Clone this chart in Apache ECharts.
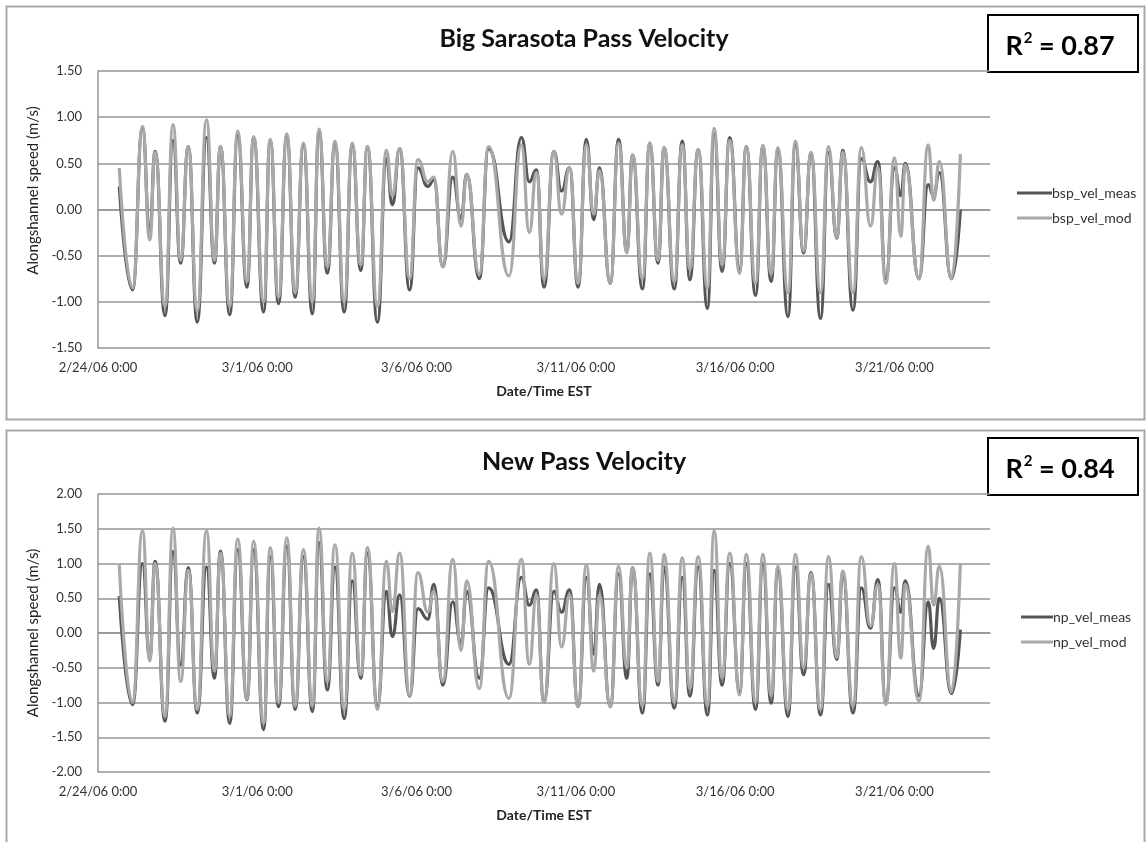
<!DOCTYPE html>
<html>
<head>
<meta charset="utf-8">
<script src="https://cdn.jsdelivr.net/npm/echarts@6/dist/echarts.min.js"></script>
<style>
html,body{margin:0;padding:0;background:#fff;}
#chart{width:1146px;height:842px;}
</style>
</head>
<body>
<div id="chart"></div>
<script>
// Time of each tidal extreme, in days after 2/24/06 0:00
var dayOffsets = [0.667, 1.084, 1.396, 1.625, 1.792, 2.104, 2.354, 2.594, 2.833, 3.115,
  3.406, 3.656, 3.844, 4.135, 4.385, 4.677, 4.885, 5.198, 5.406, 5.667,
  5.927, 6.188, 6.448, 6.729, 6.938, 7.198, 7.438, 7.729, 7.979, 8.25,
  8.458, 8.771, 9.052, 9.24, 9.469, 9.781, 10.042, 10.354, 10.542, 10.823,
  11.135, 11.396, 11.573, 11.969, 12.26, 12.9, 13.29, 13.54, 13.76, 14.0,
  14.31, 14.55, 14.8, 15.07, 15.33, 15.56, 15.74, 16.08, 16.34, 16.6,
  16.78, 17.09, 17.32, 17.58, 17.77, 18.09, 18.34, 18.58, 18.84, 19.13,
  19.34, 19.59, 19.83, 20.14, 20.35, 20.64, 20.87, 21.13, 21.34, 21.66,
  21.89, 22.15, 22.38, 22.68, 22.93, 23.19, 23.38, 23.7, 23.96, 24.25,
  24.48, 24.73, 25.0, 25.2, 25.34, 25.77, 26.06, 26.23, 26.41, 26.79,
  27.07];

var bspVelMeas = [0.25, -0.87, 0.88, -0.25, 0.63, -1.15, 0.75, -0.58, 0.68, -1.22,
  0.78, -0.58, 0.68, -1.14, 0.80, -0.84, 0.78, -1.11, 0.75, -1.02,
  0.80, -0.95, 0.70, -1.13, 0.85, -0.69, 0.72, -1.11, 0.70, -0.66,
  0.68, -1.22, 0.55, 0.05, 0.66, -0.87, 0.45, 0.25, 0.32, -0.62,
  0.35, -0.10, 0.38, -0.75, 0.66, -0.35, 0.78, 0.30, 0.43, -0.84,
  0.63, 0.20, 0.45, -0.84, 0.76, -0.11, 0.45, -0.80, 0.76, -0.45,
  0.59, -0.86, 0.72, -0.58, 0.67, -0.86, 0.74, -0.76, 0.65, -1.07,
  0.82, -0.67, 0.78, -0.65, 0.68, -0.93, 0.69, -0.78, 0.65, -1.16,
  0.70, -0.47, 0.61, -1.18, 0.62, -0.31, 0.64, -1.09, 0.55, 0.30,
  0.52, -0.75, 0.45, 0.15, 0.50, -0.75, 0.27, 0.15, 0.40, -0.75,
  0.00];

var bspVelMod = [0.45, -0.85, 0.90, -0.33, 0.62, -1.05, 0.92, -0.55, 0.68, -1.10,
  0.97, -0.55, 0.68, -1.05, 0.85, -0.78, 0.79, -1.00, 0.76, -0.95,
  0.82, -0.90, 0.72, -1.00, 0.87, -0.62, 0.74, -1.00, 0.72, -0.60,
  0.68, -1.05, 0.64, 0.15, 0.66, -0.75, 0.54, 0.30, 0.35, -0.62,
  0.63, -0.18, 0.38, -0.70, 0.68, -0.72, 0.70, -0.25, 0.40, -0.75,
  0.63, -0.05, 0.45, -0.80, 0.70, -0.05, 0.42, -0.80, 0.72, -0.47,
  0.59, -0.75, 0.72, -0.55, 0.67, -0.78, 0.70, -0.65, 0.65, -0.85,
  0.88, -0.60, 0.75, -0.69, 0.68, -0.80, 0.69, -0.70, 0.67, -0.90,
  0.74, -0.45, 0.62, -0.90, 0.68, -0.30, 0.62, -0.90, 0.67, -0.18,
  0.45, -0.80, 0.56, -0.29, 0.48, -0.75, 0.70, 0.10, 0.52, -0.75,
  0.60];

var npVelMeas = [0.53, -1.03, 1.00, -0.36, 1.03, -1.27, 1.17, -0.46, 0.94, -1.15,
  0.95, -0.65, 1.18, -1.30, 1.20, -0.96, 1.20, -1.39, 1.10, -1.06,
  1.25, -1.10, 1.10, -1.13, 1.30, -0.82, 0.95, -1.23, 0.75, -0.65,
  1.15, -1.05, 0.60, -0.05, 0.55, -0.91, 0.35, 0.20, 0.70, -0.75,
  0.45, -0.15, 0.60, -0.65, 0.65, -0.45, 0.80, 0.40, 0.62, -1.00,
  0.60, 0.30, 0.62, -1.06, 0.80, -0.30, 0.70, -1.06, 0.85, -0.65,
  0.94, -1.15, 0.85, -0.75, 0.95, -1.08, 0.80, -0.91, 0.95, -1.18,
  0.90, -0.75, 1.00, -0.85, 1.00, -1.10, 1.00, -1.01, 0.90, -1.20,
  0.95, -0.60, 0.87, -1.18, 0.70, -0.38, 0.85, -1.15, 0.65, 0.07,
  0.77, -1.00, 0.65, 0.30, 0.75, -0.90, 0.45, -0.22, 0.50, -0.87,
  0.05];

var npVelMod = [0.98, -1.00, 1.47, -0.40, 1.00, -1.20, 1.51, -0.70, 0.90, -1.10,
  1.47, -0.55, 1.15, -1.20, 1.35, -0.95, 1.32, -1.30, 1.23, -1.00,
  1.37, -1.05, 1.20, -1.05, 1.51, -0.70, 1.27, -1.10, 1.15, -0.60,
  1.23, -1.10, 1.03, 0.31, 1.15, -0.90, 0.87, 0.30, 0.60, -0.70,
  1.06, -0.25, 0.75, -0.80, 1.03, -0.94, 1.06, -0.45, 0.55, -1.00,
  1.00, -0.20, 0.55, -1.06, 0.98, -0.55, 0.55, -1.06, 0.96, -0.50,
  0.94, -1.05, 1.15, -0.70, 1.13, -1.00, 1.08, -0.80, 1.10, -1.05,
  1.47, -0.65, 1.15, -0.89, 1.13, -1.00, 1.13, -0.90, 0.96, -1.10,
  1.13, -0.50, 0.85, -1.10, 1.10, -0.35, 0.89, -1.05, 1.10, 0.10,
  0.70, -1.03, 1.00, -0.36, 0.70, -0.98, 1.25, 0.40, 0.96, -0.85,
  1.00];

var xTickLabels = ['2/24/06 0:00', '3/1/06 0:00', '3/6/06 0:00', '3/11/06 0:00', '3/16/06 0:00', '3/21/06 0:00'];
var seriesNames = ['bsp_vel_meas', 'bsp_vel_mod', 'np_vel_meas', 'np_vel_mod'];
var chartTitles = ['Big Sarasota Pass Velocity', 'New Pass Velocity'];
var rSquared = ['0.87', '0.84'];

function pairs(t, v) { return t.map(function (d, i) { return [d, v[i]]; }); }

var FONT = 'Lato, "Liberation Sans", sans-serif';
var MEAS_COLOR = '#555555';
var MOD_COLOR = '#a9a9a9';
var GRID_COLOR = '#959595';

function xAxisFor(gi) {
  return {
    type: 'value', gridIndex: gi, min: 0, max: 28, interval: 5,
    name: 'Date/Time EST', nameLocation: 'middle', nameGap: 36,
    nameTextStyle: { fontFamily: FONT, fontSize: 14, fontWeight: 'bold', color: '#222' },
    axisLine: { show: true, lineStyle: { color: GRID_COLOR, width: 1.5 } },
    axisTick: { show: false },
    splitLine: { show: false },
    axisLabel: {
      margin: 13, fontFamily: FONT, fontSize: 13, color: '#333', showMaxLabel: false,
      formatter: function (v) {
        if (Math.abs(v % 5) > 1e-6) return '';
        var k = Math.round(v / 5);
        return xTickLabels[k] || '';
      }
    }
  };
}
function yAxisFor(gi, lim, shiftUp) {
  return {
    type: 'value', gridIndex: gi, min: -lim, max: lim, interval: 0.5,
    name: 'Alongshannel speed (m/s)', nameLocation: 'middle', nameGap: 50,
    nameTextStyle: { fontFamily: FONT, fontSize: 15, color: '#222', padding: [0, 0, 0, shiftUp] },
    axisLine: { show: true, lineStyle: { color: GRID_COLOR, width: 1.5 } },
    axisTick: { show: false },
    splitLine: { show: true, lineStyle: { color: GRID_COLOR, width: 1.5 } },
    axisLabel: {
      margin: 16, fontFamily: FONT, fontSize: 13, color: '#333',
      formatter: function (v) { return v.toFixed(2); }
    }
  };
}
function lineSeries(name, gi, vals, color) {
  return {
    name: name, type: 'line', xAxisIndex: gi, yAxisIndex: gi,
    data: pairs(dayOffsets, vals), showSymbol: false, symbol: 'none',
    smooth: 0.5, smoothMonotone: 'x',
    lineStyle: { color: color, width: 3.2 }, itemStyle: { color: color },
    emphasis: { disabled: true }, animation: false
  };
}
function rBox(top, val) {
  return {
    type: 'group', left: 987, top: top,
    children: [
      { type: 'rect', shape: { x: 0, y: 0, width: 150, height: 57 },
        style: { fill: '#fff', stroke: '#000', lineWidth: 2 } },
      { type: 'text', x: 72, y: 31,
        style: { text: '{r|R}{s|2}{r| = ' + val + '}', align: 'center', verticalAlign: 'middle',
          rich: {
            r: { fontFamily: FONT, fontSize: 27, fontWeight: 'bold', fill: '#000', color: '#000' },
            s: { fontFamily: FONT, fontSize: 15, fontWeight: 'bold', fill: '#000', color: '#000', verticalAlign: 'top', padding: [0, 0, 16, 1] }
          } } }
    ]
  };
}

var chart = echarts.init(document.getElementById('chart'), null, { renderer: 'canvas' });
chart.setOption({
  backgroundColor: '#ffffff',
  animation: false,
  title: [
    { text: chartTitles[0], left: 579, top: 21, textAlign: 'center',
      textStyle: { fontFamily: FONT, fontSize: 25, fontWeight: 'bold', color: '#111' } },
    { text: chartTitles[1], left: 579, top: 444, textAlign: 'center',
      textStyle: { fontFamily: FONT, fontSize: 25, fontWeight: 'bold', color: '#111' } }
  ],
  legend: [
    { data: [seriesNames[0], seriesNames[1]], orient: 'vertical', left: 1012, top: 181,
      icon: 'rect', itemWidth: 35, itemHeight: 3, itemGap: 11,
      textStyle: { fontFamily: FONT, fontSize: 14, color: '#333', padding: [0, 0, 0, -5] } },
    { data: [seriesNames[2], seriesNames[3]], orient: 'vertical', left: 1016, top: 605,
      icon: 'rect', itemWidth: 32, itemHeight: 3, itemGap: 11,
      textStyle: { fontFamily: FONT, fontSize: 14, color: '#333', padding: [0, 0, 0, -5] } }
  ],
  grid: [
    { left: 98, top: 71, width: 892, height: 277 },
    { left: 98, top: 494, width: 892, height: 278 }
  ],
  xAxis: [xAxisFor(0), xAxisFor(1)],
  yAxis: [yAxisFor(0, 1.5, 38), yAxisFor(1, 2, 0)],
  series: [
    lineSeries(seriesNames[0], 0, bspVelMeas, MEAS_COLOR),
    lineSeries(seriesNames[1], 0, bspVelMod, MOD_COLOR),
    lineSeries(seriesNames[2], 1, npVelMeas, MEAS_COLOR),
    lineSeries(seriesNames[3], 1, npVelMod, MOD_COLOR)
  ],
  graphic: [
    { type: 'rect', left: 4, top: 4, z: -10, shape: { width: 1138, height: 413 },
      style: { fill: 'none', stroke: '#a8a8a8', lineWidth: 2 } },
    { type: 'rect', left: 4, top: 428, z: -10, shape: { width: 1138, height: 420 },
      style: { fill: 'none', stroke: '#a8a8a8', lineWidth: 2 } },
    rBox(14, rSquared[0]),
    rBox(437, rSquared[1])
  ]
});
</script>
</body>
</html>
